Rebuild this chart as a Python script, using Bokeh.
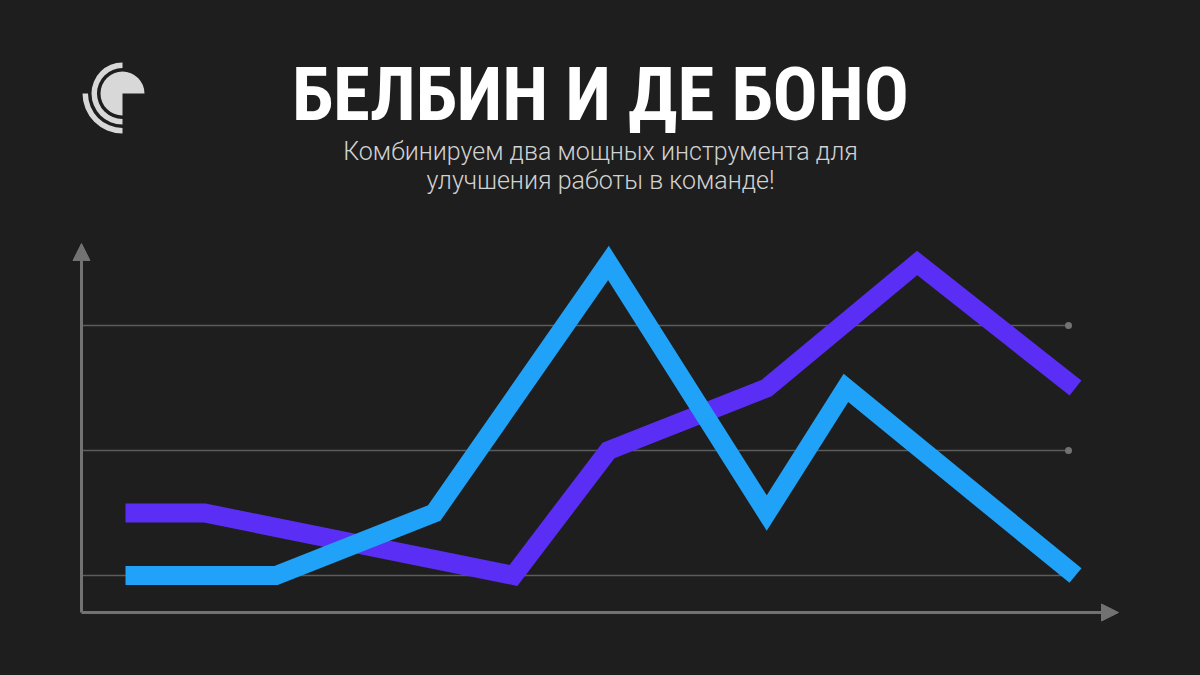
import numpy as np
from bokeh.plotting import figure
from bokeh.models import Range1d, Arrow, NormalHead
from bokeh.core.properties import value
from bokeh.embed import file_html
from bokeh.resources import INLINE
from jinja2 import Template

# ---------------- data ----------------
TITLE = "БЕЛБИН И ДЕ БОНО"
SUBTITLE = ["Комбинируем два мощных инструмента для", "улучшения работы в команде!"]

grid_levels = [1, 2, 3]

purple_x = [0.0, 1.0, 4.9, 6.1, 8.1, 10.0, 12.0]
purple_y = [1.5, 1.5, 1.0, 2.0, 2.5, 3.5, 2.5]

blue_x = [0.0, 1.9, 3.9, 6.1, 8.1, 9.1, 12.0]
blue_y = [1.0, 1.0, 1.5, 3.5, 1.5, 2.5, 1.0]

# ---------------- layout ----------------
W, H = 1200, 675
BG = "#1e1e1e"
PURPLE = "#5B2EF5"
BLUE = "#1FA2F7"
AXIS = "#727272"
GRID = "#5c5c5c"
LOGO = "#d8d8d8"

# mapping page-pixel -> data
X0, XU = 125.0, 950.0 / 12.0
Y0, YU = 700.0, 125.0


def px2x(px):
    return (px - X0) / XU


def px2y(py):
    return (Y0 - py) / YU


p = figure(width=W, height=H, output_backend="svg", toolbar_location=None,
           x_range=Range1d(px2x(0), px2x(W)),
           y_range=Range1d(px2y(H), px2y(0)),
           x_axis_type=None, y_axis_type=None, min_border=0,
           background_fill_color=BG, border_fill_color=BG,
           outline_line_color=None)
p.xgrid.visible = False
p.ygrid.visible = False

# grid lines with end dots
gx0, gx1 = px2x(81), px2x(1068)
p.segment(x0=[gx0] * len(grid_levels), y0=grid_levels,
          x1=[gx1] * len(grid_levels), y1=grid_levels,
          line_color=GRID, line_width=1.5)
p.scatter(x=[gx1] * len(grid_levels), y=grid_levels, size=7,
          fill_color=AXIS, line_color=None)

# axes with arrow heads
ax_x, ax_y = px2x(81), px2y(612)
p.add_layout(Arrow(x_start=ax_x, y_start=ax_y, x_end=ax_x, y_end=px2y(243),
                   line_color=AXIS, line_width=3,
                   end=NormalHead(size=17, fill_color=AXIS, line_color=AXIS, line_width=1)))
p.add_layout(Arrow(x_start=ax_x, y_start=ax_y, x_end=px2x(1118), y_end=ax_y,
                   line_color=AXIS, line_width=3,
                   end=NormalHead(size=17, fill_color=AXIS, line_color=AXIS, line_width=1)))

# series
p.line(purple_x, purple_y, line_color=PURPLE, line_width=19,
       line_join="miter", line_cap="butt")
p.line(blue_x, blue_y, line_color=BLUE, line_width=19,
       line_join="miter", line_cap="butt")

# logo
cx, cy = px2x(122), px2y(93)
p.wedge(x=[cx], y=[cy], radius=22, radius_units="screen",
        start_angle=0, end_angle=1.5 * np.pi, fill_color=LOGO, line_color=None)
p.annular_wedge(x=[cx], y=[cy], inner_radius=25.5, outer_radius=31,
                inner_radius_units="screen", outer_radius_units="screen",
                start_angle=0.5 * np.pi, end_angle=1.5 * np.pi,
                fill_color=LOGO, line_color=None)
p.annular_wedge(x=[cx], y=[cy], inner_radius=34.5, outer_radius=40,
                inner_radius_units="screen", outer_radius_units="screen",
                start_angle=np.pi, end_angle=1.5 * np.pi,
                fill_color=LOGO, line_color=None)

# title & subtitle
p.text(x=[px2x(600)], y=[px2y(93)], text=[TITLE],
       text_font=value("'Roboto Condensed', 'Liberation Sans Narrow', 'DejaVu Sans Condensed', Roboto"),
       text_font_style="bold", text_font_size="75px", text_color="#ffffff",
       text_align="center", text_baseline="alphabetic")
p.text(x=[px2x(600)] * 2, y=[px2y(151), px2y(180)], text=SUBTITLE,
       text_font=value("'Roboto Light', Roboto"),
       text_font_size="25px", text_color="#d2d2d2",
       text_align="center", text_baseline="alphabetic")

template = Template("""{% extends base %}
{% block preamble %}<style>html, body { background: #1e1e1e; }</style>{% endblock %}
""")

with open("out.html", "w") as f:
    f.write(file_html(p, INLINE, template=template))
